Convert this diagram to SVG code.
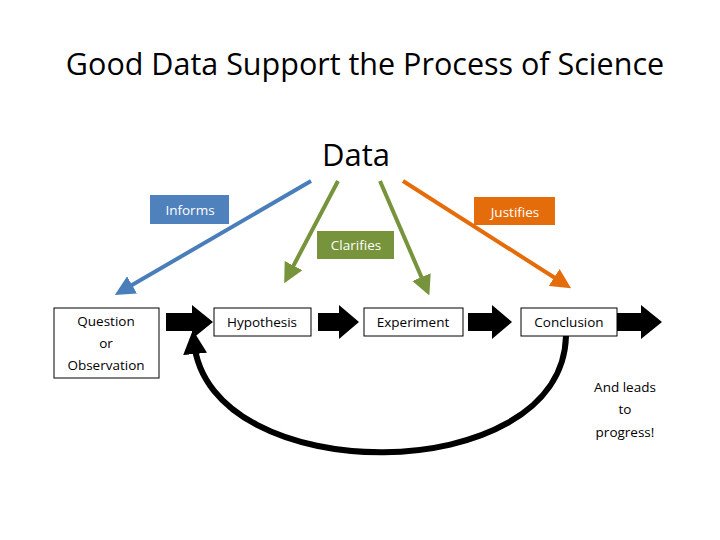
<svg xmlns="http://www.w3.org/2000/svg" width="720" height="540" viewBox="0 0 720 540">
<style>
text{font-family:"Open Sans","Liberation Sans",sans-serif;text-anchor:middle}
.box{fill:#fff;stroke:#000;stroke-width:1}
.t{font-size:13.5px;fill:#000}
.lab{font-size:13.5px;fill:#fff}
.blk{fill:#000}
</style>
<defs>
<marker id="mb" markerWidth="5" markerHeight="5" refX="3.5" refY="2.5" orient="auto"><path d="M0,0L5,2.5L0,5z" fill="#4a7ebb"/></marker>
<marker id="mg" markerWidth="5" markerHeight="5" refX="3.5" refY="2.5" orient="auto"><path d="M0,0L5,2.5L0,5z" fill="#77933c"/></marker>
<marker id="mo" markerWidth="5" markerHeight="5" refX="3.5" refY="2.5" orient="auto"><path d="M0,0L5,2.5L0,5z" fill="#e46c0a"/></marker>
<marker id="mk" markerWidth="4" markerHeight="4" refX="2" refY="2" orient="auto"><path d="M0,0L4,2L0,4z" fill="#000"/></marker>
</defs>
<rect width="720" height="540" fill="#fff"/>
<text x="365" y="75" font-size="30.5">Good Data Support the Process of Science</text>
<text x="356" y="166" font-size="31">Data</text>
<g id="connectors" fill="none">
<line x1="311" y1="181" x2="120" y2="292" stroke="#4a7ebb" stroke-width="4" marker-end="url(#mb)"/>
<line x1="338" y1="181" x2="287" y2="278" stroke="#77933c" stroke-width="4" marker-end="url(#mg)"/>
<line x1="380" y1="181" x2="427" y2="290" stroke="#77933c" stroke-width="4" marker-end="url(#mg)"/>
<line x1="403" y1="181" x2="566" y2="285" stroke="#e46c0a" stroke-width="4" marker-end="url(#mo)"/>
<path d="M566,336 C562,490 208,490 194,342" stroke="#000" stroke-width="6" marker-end="url(#mk)"/>
<path class="blk" d="M166,313h26v-8l21,17l-21,17v-8h-26z"/>
<path class="blk" d="M318,313h21v-8l20,17l-20,17v-8h-21z"/>
<path class="blk" d="M468,313h24v-8l20,17l-20,17v-8h-24z"/>
<path class="blk" d="M617,313h24v-8l21,17l-21,17v-8h-24z"/>
</g>
<g id="informs"><rect x="150" y="195" width="79" height="29" fill="#4f81bd"/><text class="lab" x="190" y="215">Informs</text></g>
<g id="justifies"><rect x="474" y="197" width="81" height="28" fill="#e46c0a"/><text class="lab" x="515" y="217">Justifies</text></g>
<g id="clarifies"><rect x="317" y="231" width="77" height="28" fill="#77933c"/><text class="lab" x="356" y="250">Clarifies</text></g>
<g id="question"><rect class="box" x="54" y="308" width="105" height="70"/><text class="t" x="106" y="326">Question</text><text class="t" x="106" y="348">or</text><text class="t" x="106" y="370">Observation</text></g>
<g id="hypothesis"><rect class="box" x="214" y="308" width="97" height="28"/><text class="t" x="262" y="327">Hypothesis</text></g>
<g id="experiment"><rect class="box" x="364" y="308" width="99" height="28"/><text class="t" x="413" y="327">Experiment</text></g>
<g id="conclusion"><rect class="box" x="521" y="308" width="96" height="28"/><text class="t" x="569" y="327">Conclusion</text></g>
<g id="progress"><text class="t" x="625" y="392">And leads</text><text class="t" x="625" y="414">to</text><text class="t" x="625" y="437">progress!</text></g>
</svg>
